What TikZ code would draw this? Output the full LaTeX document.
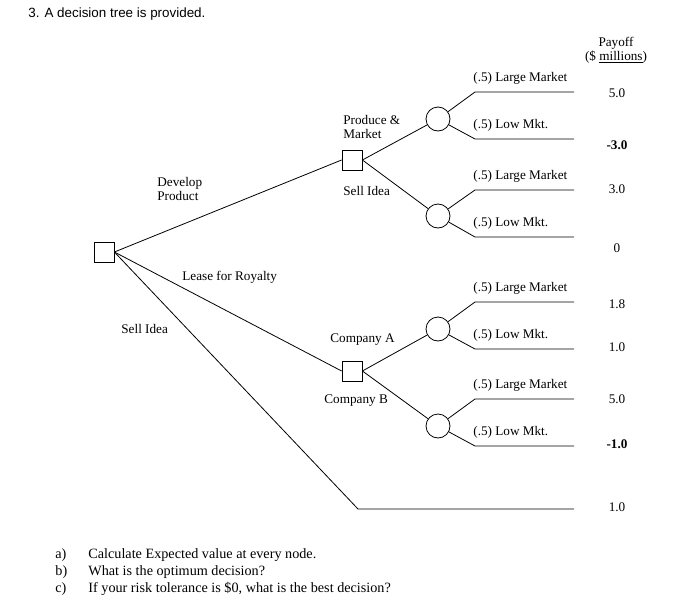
\documentclass[tikz,border=0pt]{standalone}
\usepackage{fontspec}
\setmainfont{Liberation Serif}
\newfontfamily\titlefont{Liberation Sans}
\begin{document}
\begin{tikzpicture}[x=1pt,y=-1pt,font=\fontsize{13.2}{14}\selectfont,
  dec/.style={draw,rectangle,minimum size=20pt,inner sep=0pt},
  chn/.style={draw,circle,minimum size=24pt,inner sep=0pt},
  lbl/.style={inner sep=0pt,align=left},
  pay/.style={inner sep=0pt},
  line width=0.8pt]
\useasboundingbox (0,0) rectangle (685,605);
\node[lbl,anchor=west,font=\titlefont\fontsize{13.4}{14}\selectfont] (title) at (28,14) {3. A decision tree is provided.};
\node[pay] (ph) at (616,43) {Payoff};
\node[pay] (pu) at (616,57) {(\$ \underline{millions})};
\node[dec] (r) at (104,252) {};
\node[dec] (d1) at (352,160) {};
\node[dec] (d2) at (352,371) {};
\node[chn] (c1) at (438,119) {};
\node[chn] (c2) at (438,216) {};
\node[chn] (c3) at (438,329) {};
\node[chn] (c4) at (438,426) {};
\foreach \c/\ya/\yb/\i in {c1/92/139/1,c2/190/237/2,c3/302/349/3,c4/399/446/4}{
  \coordinate (a\i) at (475,\ya); \coordinate (ae\i) at (574,\ya);
  \coordinate (b\i) at (475,\yb); \coordinate (be\i) at (574,\yb);
  \draw (\c) -- (a\i) -- (ae\i);
  \draw (\c) -- (b\i) -- (be\i);
  \node[lbl,anchor=west] at (473,{\ya-14}) {(.5) Large Market};
  \node[lbl,anchor=west] at (473,{\yb-14}) {(.5) Low Mkt.};
}
\coordinate (s) at (358,509); \coordinate (se) at (574,509);
\draw (r.east) -- (d1.west);
\draw (r.east) -- (d2.west);
\draw (r.east) -- (s) -- (se);
\draw (d1.east) -- (c1); \draw (d1.east) -- (c2);
\draw (d2.east) -- (c3); \draw (d2.east) -- (c4);
\node[lbl,anchor=west] at (157,189) {Develop\\Product};
\node[lbl,anchor=west] at (182,277) {Lease for Royalty};
\node[lbl,anchor=west] at (121,329) {Sell Idea};
\node[lbl,anchor=west] at (343,127) {Produce \&\\Market};
\node[lbl,anchor=west] at (343,191) {Sell Idea};
\node[lbl,anchor=west] at (330,340) {Company A};
\node[lbl,anchor=west] at (324,401) {Company B};
\node[pay] at (617,93) {5.0};
\node[pay,font=\bfseries\fontsize{13.2}{14}\selectfont] at (617,145) {-3.0};
\node[pay] at (617,189) {3.0};
\node[pay] at (617,248) {0};
\node[pay] at (617,304) {1.8};
\node[pay] at (617,347) {1.0};
\node[pay] at (617,399) {5.0};
\node[pay,font=\bfseries\fontsize{13.2}{14}\selectfont] at (617,444) {-1.0};
\node[pay] at (617,507) {1.0};
\begin{scope}[font=\fontsize{14.2}{15}\selectfont]
\node[lbl,anchor=west] at (55,555) {a)};
\node[lbl,anchor=west] at (55,572) {b)};
\node[lbl,anchor=west] at (55,589) {c)};
\node[lbl,anchor=west] at (88,555) {Calculate Expected value at every node.};
\node[lbl,anchor=west] at (88,572) {What is the optimum decision?};
\node[lbl,anchor=west] at (88,589) {If your risk tolerance is \$0, what is the best decision?};
\end{scope}
\end{tikzpicture}
\end{document}
